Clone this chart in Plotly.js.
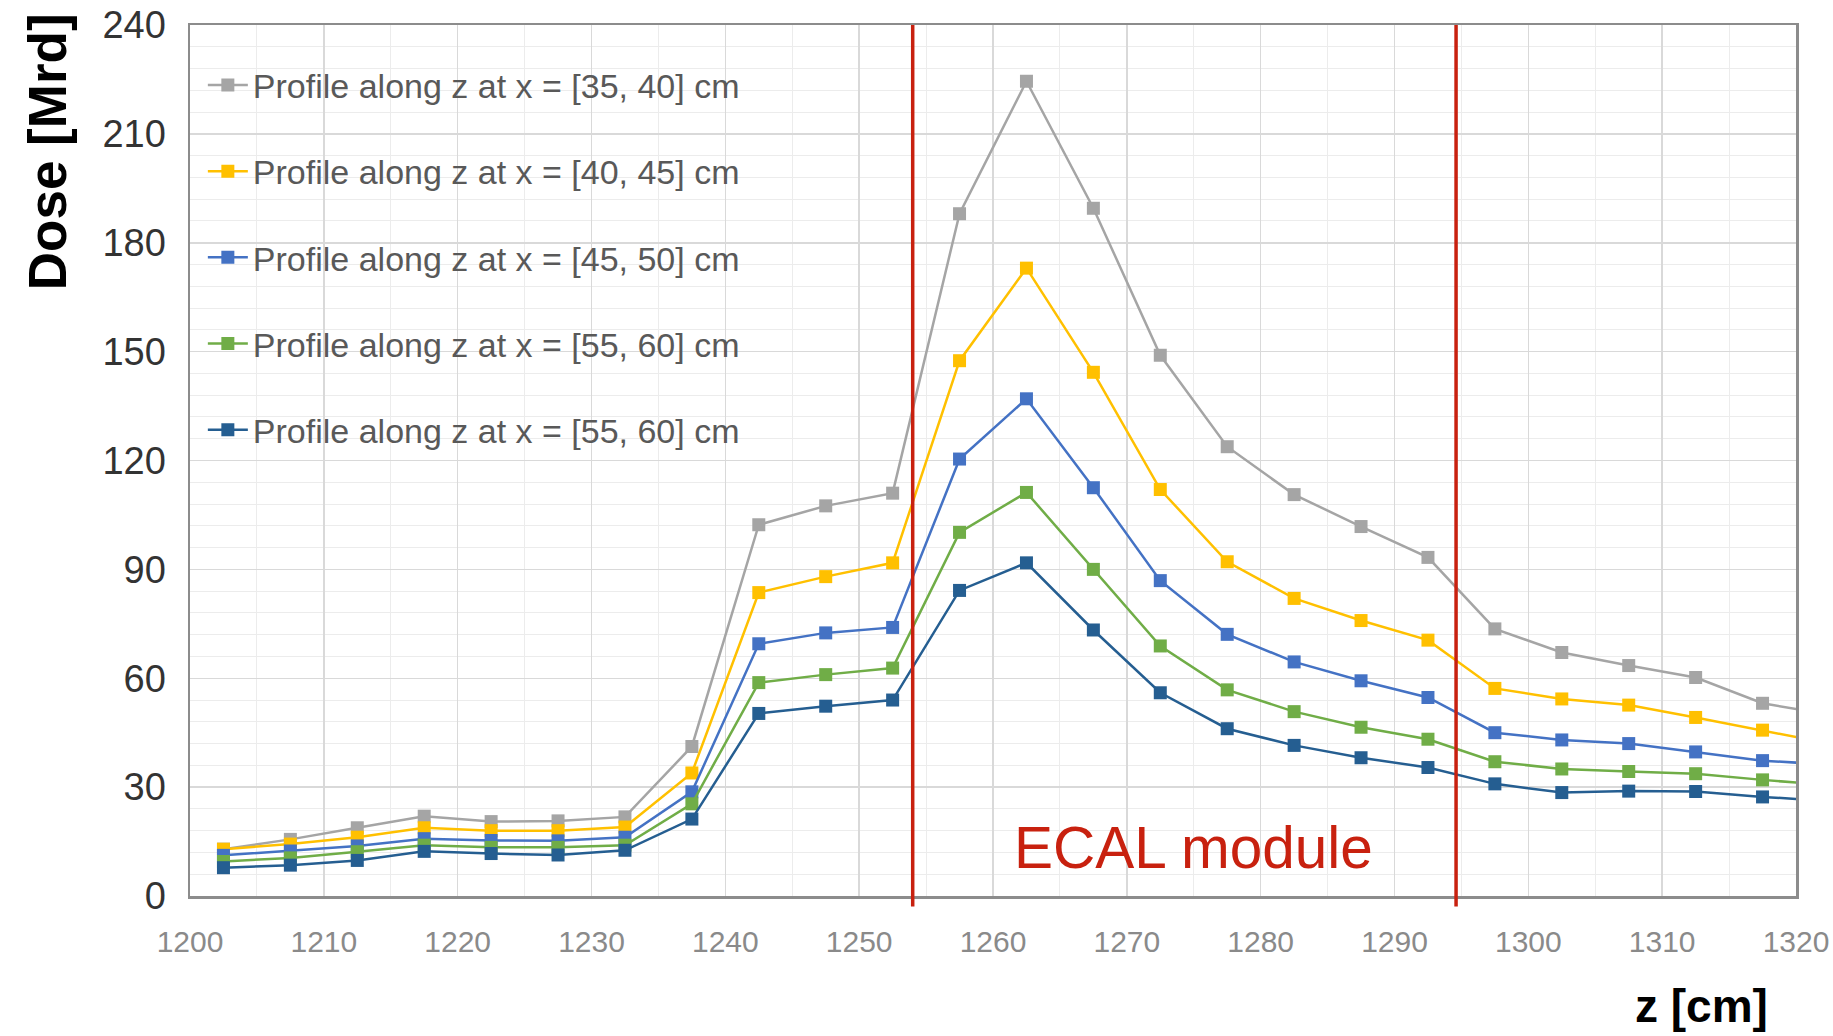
<!DOCTYPE html>
<html>
<head>
<meta charset="utf-8">
<script src="https://cdn.plot.ly/plotly-3.0.1.min.js"></script>
<style>html,body{margin:0;padding:0;background:#fff;}#chart{width:1833px;height:1036px;}</style>
</head>
<body>
<div id="chart"></div>
<script>
// z positions (cm)
const zValues = [1202.5,1207.5,1212.5,1217.5,1222.5,1227.5,1232.5,1237.5,1242.5,1247.5,1252.5,1257.5,1262.5,1267.5,1272.5,1277.5,1282.5,1287.5,1292.5,1297.5,1302.5,1307.5,1312.5,1317.5,1322.5];
// Dose [Mrd] series
const dose35_40 = [12.9,15.6,18.8,22.0,20.5,20.7,21.8,41.2,102.3,107.5,111.0,188.0,224.5,189.5,149.0,123.8,110.6,101.8,93.3,73.6,67.1,63.5,60.2,53.1,49.9];
const dose40_45 = [12.9,14.3,16.2,18.8,18.0,18.0,19.0,33.9,83.6,88.0,91.8,147.5,173.0,144.3,112.0,92.1,82.0,75.9,70.5,57.2,54.3,52.6,49.2,45.7,42.0];
const dose45_50 = [11.2,12.4,13.8,15.8,15.3,15.2,16.2,28.7,69.5,72.5,74.0,120.4,137.0,112.5,86.9,72.1,64.5,59.3,54.7,45.0,43.0,42.0,39.7,37.3,36.2];
const dose55_60a = [9.5,10.5,12.2,14.0,13.4,13.4,14.0,25.4,58.8,61.0,62.8,100.2,111.2,90.0,68.9,56.8,50.8,46.5,43.2,37.0,35.0,34.3,33.7,32.0,30.5];
const dose55_60b = [7.8,8.5,9.8,12.3,11.7,11.3,12.6,21.2,50.3,52.3,54.0,84.2,91.8,73.3,56.0,46.1,41.5,38.1,35.4,30.9,28.5,28.9,28.8,27.3,26.2];

const seriesNames = [
  "Profile along z at x = [35, 40] cm",
  "Profile along z at x = [40, 45] cm",
  "Profile along z at x = [45, 50] cm",
  "Profile along z at x = [55, 60] cm",
  "Profile along z at x = [55, 60] cm"
];
const seriesData = [dose35_40, dose40_45, dose45_50, dose55_60a, dose55_60b];
const seriesColors = ["#a5a5a5", "#ffc000", "#4472c4", "#70ad47", "#255e91"];

// ECAL module boundaries (cm)
const ecalBounds = [1254, 1294.6];
const ecalLabel = "ECAL module";
const xTicks = [1200,1210,1220,1230,1240,1250,1260,1270,1280,1290,1300,1310,1320];
const yTicks = [0,30,60,90,120,150,180,210,240];

const FONT = "Liberation Sans, Arial, sans-serif";
const RED = "#c8210f";

const traces = seriesData.map((d, i) => ({
  type: "scatter",
  mode: "lines+markers",
  x: zValues,
  y: d,
  name: seriesNames[i],
  legendgroup: "g" + i,
  line: {color: seriesColors[i], width: 2.5},
  marker: {symbol: "square", size: 13, color: seriesColors[i]}
}));

const layout = {
  width: 1833,
  height: 1036,
  margin: {l: 190, r: 37, t: 25, b: 140},
  paper_bgcolor: "#ffffff",
  plot_bgcolor: "#ffffff",
  font: {family: FONT},
  showlegend: true,
  legend: {
    x: 0.008, y: 0.964, xanchor: "left", yanchor: "top",
    bgcolor: "rgba(0,0,0,0)",
    font: {family: FONT, size: 34, color: "#595959"},
    traceorder: "grouped",
    tracegroupgap: 39,
    itemwidth: 40
  },
  xaxis: {
    range: [1200, 1320],
    tickmode: "array",
    tickvals: xTicks,
    ticktext: xTicks.map(String),
    showgrid: true, gridcolor: "#d9d9d9", gridwidth: 1.5,
    minor: {dtick: 5, tick0: 1200, showgrid: true, gridcolor: "#ececec", gridwidth: 1},
    ticks: "outside", ticklen: 17, tickcolor: "rgba(0,0,0,0)",
    tickfont: {family: FONT, size: 30, color: "#8a8a8a"},
    showline: true, linecolor: "#8c8c8c", linewidth: 2.5, mirror: true,
    zeroline: false
  },
  yaxis: {
    range: [0, 240],
    tickmode: "array",
    tickvals: yTicks,
    ticktext: yTicks.map(String),
    showgrid: true, gridcolor: "#d9d9d9", gridwidth: 1.5,
    minor: {dtick: 6, tick0: 0, showgrid: true, gridcolor: "#ececec", gridwidth: 1},
    ticks: "outside", ticklen: 14, tickcolor: "rgba(0,0,0,0)",
    tickfont: {family: FONT, size: 38, color: "#333333"},
    showline: true, linecolor: "#8c8c8c", linewidth: 2.5, mirror: true,
    zeroline: false
  },
  shapes: [
    {type: "rect", layer: "between", xref: "paper", yref: "y", x0: 0, x1: 0.356, y0: 116, y1: 240,
     fillcolor: "#ffffff", line: {width: 0}},
    {type: "line", layer: "above", xref: "x", yref: "paper", x0: ecalBounds[0], x1: ecalBounds[0], y0: -0.012, y1: 1,
     line: {color: RED, width: 3.5}},
    {type: "line", layer: "above", xref: "x", yref: "paper", x0: ecalBounds[1], x1: ecalBounds[1], y0: -0.012, y1: 1,
     line: {color: RED, width: 3.5}}
  ],
  annotations: [
    {text: ecalLabel, xref: "x", yref: "y", x: 1275, y: 13.5, showarrow: false,
     xanchor: "center", yanchor: "middle", font: {family: FONT, size: 58.5, color: RED}},
    {text: "<b>Dose [Mrd]</b>", xref: "paper", yref: "paper", x: -0.089, y: 0.854, textangle: -90,
     showarrow: false, xanchor: "center", yanchor: "middle", font: {family: FONT, size: 53, color: "#000000"}},
    {text: "<b>z [cm]</b>", xref: "paper", yref: "paper", x: 0.941, y: -0.126,
     showarrow: false, xanchor: "center", yanchor: "middle", font: {family: FONT, size: 46, color: "#000000"}}
  ]
};

Plotly.newPlot("chart", traces, layout, {displayModeBar: false, staticPlot: true});
</script>
</body>
</html>
